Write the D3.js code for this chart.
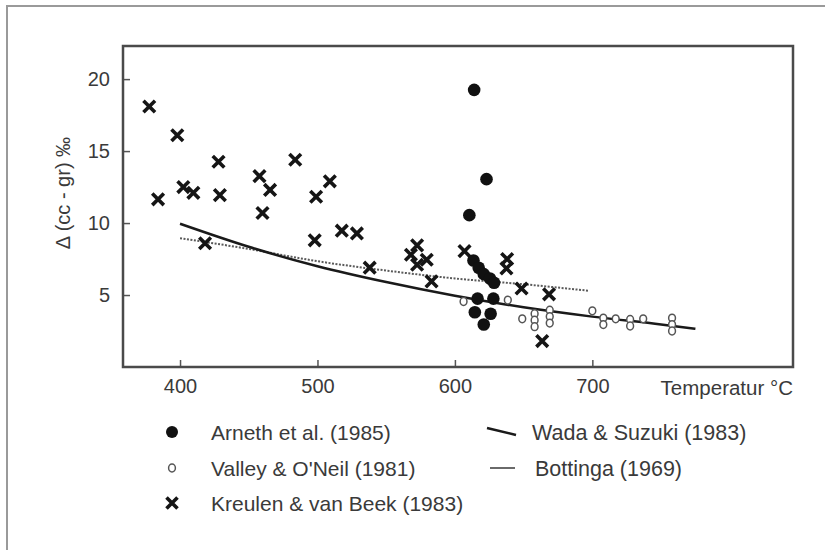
<!DOCTYPE html>
<html>
<head>
<meta charset="utf-8">
<script src="https://cdn.jsdelivr.net/npm/d3@7"></script>
<style>
  html, body { margin: 0; padding: 0; background: #fff; }
  svg { display: block; font-family: "Liberation Sans", Arial, Helvetica, sans-serif; }
</style>
</head>
<body>
<svg id="chart" width="825" height="550"></svg>
<script>
// Arneth et al. (1985): [temperature °C, Δ ‰]
const arnethPts = [
  [614, 19.25], [623, 13.05], [610.5, 10.55],
  [613.5, 7.4], [617.3, 6.9], [621, 6.45], [625.5, 6.15], [628.5, 5.85],
  [616.5, 4.75], [628, 4.75], [614.5, 3.8], [626, 3.7], [621, 2.95]
];
// Valley & O'Neil (1981)
const valleyPts = [
  [606.3, 4.55], [638.5, 4.65], [649, 3.35],
  [658, 3.7], [658, 3.25], [658, 2.8],
  [669, 3.95], [669, 3.5], [669, 3.05],
  [700, 3.9], [708, 3.4], [708, 2.95], [717, 3.35],
  [727.5, 3.3], [727.5, 2.85], [737, 3.35],
  [758, 3.4], [758, 2.95], [758, 2.5]
];
// Kreulen & van Beek (1983)
const kreulenPts = [
  [377.6, 18.1], [398, 16.1], [384, 11.65], [402.4, 12.5], [409.7, 12.1],
  [428, 14.26], [429, 11.94], [418.2, 8.6], [457.8, 13.26], [465.5, 12.3],
  [460, 10.7], [483.8, 14.4], [509, 12.9], [499, 11.83], [498, 8.8],
  [517.7, 9.47], [528.7, 9.28], [538, 6.9],
  [572.5, 8.45], [568, 7.8], [579.5, 7.45], [572.5, 7.1], [583, 5.95],
  [607, 8.05], [638, 7.5], [637.5, 6.85], [648.5, 5.45], [668.5, 5.05], [663.5, 1.8]
];
// Wada & Suzuki (1983) calibration curve
const wadaT = [400, 450, 500, 550, 600, 650, 700, 750, 775];
const wadaD = [9.95, 8.35, 7.0, 5.9, 4.95, 4.15, 3.5, 2.95, 2.65];
// Bottinga (1969) calibration curve
const bottT = [400, 450, 500, 550, 600, 650, 697];
const bottD = [8.95, 8.2, 7.35, 6.7, 6.15, 5.75, 5.3];

const xTicks = [400, 500, 600, 700];
const yTicks = [5, 10, 15, 20];
const xTitle = "Temperatur °C";
const yTitle = "Δ (cc - gr) ‰";
const legendLeft = ["Arneth et al. (1985)", "Valley & O'Neil (1981)", "Kreulen & van Beek (1983)"];
const legendRight = ["Wada & Suzuki (1983)", "Bottinga (1969)"];

const svg = d3.select("#chart");
const textColor = "#3a3a3a";

// outer border (only top and left edges fall inside the page)
svg.append("rect")
  .attr("x", 7).attr("y", 6).attr("width", 840).attr("height", 560)
  .attr("fill", "none").attr("stroke", "#9a9a9a").attr("stroke-width", 2);

const x = d3.scaleLinear().domain([358.5, 846]).range([123, 793]);
const y = d3.scaleLinear().domain([0, 22.3]).range([367, 46]);

const [x0, x1] = x.range();
const [yb, yt] = y.range();

// axes with inward ticks
const xAxis = svg.append("g").attr("transform", `translate(0,${yb})`)
  .call(d3.axisBottom(x).tickValues(xTicks).tickSize(-7).tickPadding(12));
const yAxis = svg.append("g").attr("transform", `translate(${x0},0)`)
  .call(d3.axisLeft(y).tickValues(yTicks).tickSize(-7).tickPadding(13));
[xAxis, yAxis].forEach(g => {
  g.select(".domain").remove();
  g.selectAll("line").attr("stroke", "#555").attr("stroke-width", 1.5);
  g.selectAll("text").attr("fill", textColor).style("font-size", "20px")
    .style("font-family", "Liberation Sans, Arial, sans-serif");
});

// plot frame
svg.append("rect")
  .attr("x", x0).attr("y", yt).attr("width", x1 - x0).attr("height", yb - yt)
  .attr("fill", "none").attr("stroke", "#4a4a4a").attr("stroke-width", 2.5);

svg.append("text")
  .attr("x", x1).attr("y", yb + 28)
  .attr("text-anchor", "end").attr("fill", textColor).style("font-size", "20.5px")
  .text(xTitle);

svg.append("text")
  .attr("transform", "translate(70,193) rotate(-90)")
  .attr("text-anchor", "middle").attr("fill", textColor).style("font-size", "20px")
  .text(yTitle);

// calibration curves
const line = d3.line().x(d => x(d[0])).y(d => y(d[1])).curve(d3.curveMonotoneX);
svg.append("path")
  .datum(bottT.map((t, i) => [t, bottD[i]]))
  .attr("d", line).attr("fill", "none")
  .attr("stroke", "#5a5a5a").attr("stroke-width", 2).attr("stroke-dasharray", "2,1.5");
svg.append("path")
  .datum(wadaT.map((t, i) => [t, wadaD[i]]))
  .attr("d", line).attr("fill", "none")
  .attr("stroke", "#1a1a1a").attr("stroke-width", 2.5);

// marker helpers
function cross(g, cx, cy, s) {
  g.append("path")
    .attr("d", `M${cx - s},${cy - s}L${cx + s},${cy + s}M${cx + s},${cy - s}L${cx - s},${cy + s}`)
    .attr("stroke", "#151515").attr("stroke-width", 3.6).attr("stroke-linecap", "butt");
}

const pts = svg.append("g");
valleyPts.forEach(d => {
  pts.append("ellipse").attr("cx", x(d[0])).attr("cy", y(d[1]))
    .attr("rx", 3.4).attr("ry", 3.9)
    .attr("fill", "#fff").attr("stroke", "#555").attr("stroke-width", 1.5);
});
kreulenPts.forEach(d => cross(pts, x(d[0]), y(d[1]), 5.8));
arnethPts.forEach(d => {
  pts.append("circle").attr("cx", x(d[0])).attr("cy", y(d[1])).attr("r", 6.3).attr("fill", "#111");
});

// legend
const rows = [432, 468, 503];
const lg = svg.append("g");
lg.append("circle").attr("cx", 172).attr("cy", rows[0]).attr("r", 6).attr("fill", "#111");
lg.append("ellipse").attr("cx", 172).attr("cy", rows[1]).attr("rx", 3.4).attr("ry", 3.9)
  .attr("fill", "#fff").attr("stroke", "#555").attr("stroke-width", 1.5);
cross(lg, 172, rows[2], 5.5);
legendLeft.forEach((t, i) => {
  lg.append("text").attr("x", 211).attr("y", rows[i] + 7.5)
    .attr("fill", textColor).style("font-size", "21px").text(t);
});
lg.append("line").attr("x1", 487).attr("y1", rows[0] - 4).attr("x2", 516).attr("y2", rows[0] + 3)
  .attr("stroke", "#1a1a1a").attr("stroke-width", 2.5);
lg.append("line").attr("x1", 490).attr("y1", rows[1]).attr("x2", 515).attr("y2", rows[1])
  .attr("stroke", "#6a6a6a").attr("stroke-width", 2);
legendRight.forEach((t, i) => {
  lg.append("text").attr("x", i === 0 ? 532 : 535).attr("y", rows[i] + 7.5)
    .attr("fill", textColor).style("font-size", "21.5px").text(t);
});
</script>
</body>
</html>
